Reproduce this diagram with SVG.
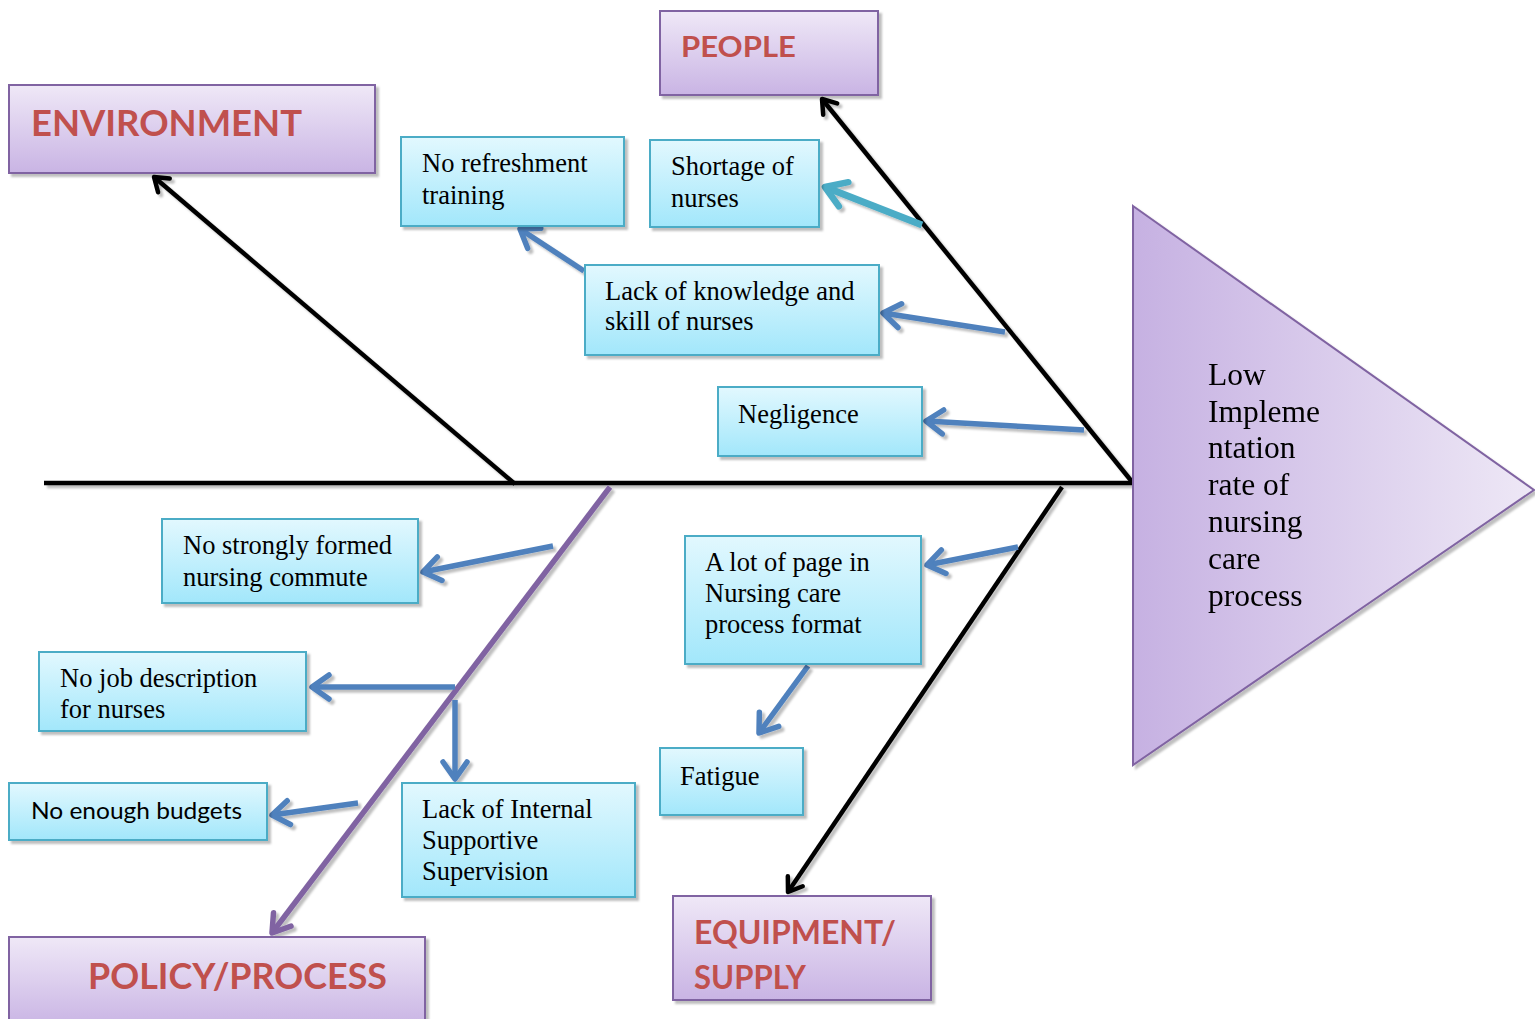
<svg xmlns="http://www.w3.org/2000/svg" width="1535" height="1019" viewBox="0 0 1535 1019">
<defs>
<linearGradient id="gBlue" x1="0" y1="0" x2="0" y2="1">
<stop offset="0" stop-color="#E2F8FE"/><stop offset="1" stop-color="#A2E7FB"/>
</linearGradient>
<linearGradient id="gPurple" x1="0" y1="0" x2="0" y2="1">
<stop offset="0" stop-color="#EFE8F7"/><stop offset="1" stop-color="#C9B4E4"/>
</linearGradient>
<linearGradient id="gTri" x1="0" y1="0" x2="1" y2="0">
<stop offset="0" stop-color="#C6B1E2"/><stop offset="1" stop-color="#EEE8F6"/>
</linearGradient>
<filter id="sh" x="-10%" y="-10%" width="130%" height="130%">
<feDropShadow dx="3" dy="3" stdDeviation="0.8" flood-color="#000" flood-opacity="0.25"/>
</filter>
<marker id="mBlue" markerUnits="userSpaceOnUse" markerWidth="30" markerHeight="30" refX="0" refY="0" orient="auto" style="overflow:visible">
<path d="M-17,-12 L0,0 L-17,12" fill="none" stroke="#4F81BD" stroke-width="5.5" stroke-linecap="round" stroke-linejoin="round"/>
</marker>
<marker id="mTeal" markerUnits="userSpaceOnUse" markerWidth="30" markerHeight="30" refX="0" refY="0" orient="auto" style="overflow:visible">
<path d="M-20,-13 L0,0 L-20,13" fill="none" stroke="#4BACC6" stroke-width="6.5" stroke-linecap="round" stroke-linejoin="round"/>
</marker>
<marker id="mBlack" markerUnits="userSpaceOnUse" markerWidth="30" markerHeight="30" refX="0" refY="0" orient="auto" style="overflow:visible">
<path d="M-13,-9 L0,0 L-13,9" fill="none" stroke="#000" stroke-width="4.5" stroke-linecap="round" stroke-linejoin="round"/>
</marker>
<marker id="mPurple" markerUnits="userSpaceOnUse" markerWidth="30" markerHeight="30" refX="0" refY="0" orient="auto" style="overflow:visible">
<path d="M-17,-11 L0,0 L-17,11" fill="none" stroke="#8064A2" stroke-width="5.5" stroke-linecap="round" stroke-linejoin="round"/>
</marker>
</defs>
<style>
.cause { fill: url(#gBlue); stroke: #4BACC6; stroke-width: 2; }
.cat { fill: url(#gPurple); stroke: #8064A2; stroke-width: 2; }
.t { font-family: "Liberation Serif", "Times New Roman", serif; font-size: 26.5px; fill: #000; }
.tt { font-family: "Liberation Serif", "Times New Roman", serif; font-size: 31.5px; fill: #000; }
.h { font-family: Lato, "Open Sans", "Liberation Sans", sans-serif; font-weight: bold; fill: #C0504D; }
.s { font-family: Lato, "Liberation Sans", sans-serif; font-size: 23px; fill: #000; }
.bone { fill: none; stroke: #000; stroke-width: 4.5; }
.ba { fill: none; stroke: #4F81BD; stroke-width: 5.5; }
</style>

<g id="connectors" filter="url(#sh)">
<line class="bone" x1="44" y1="483" x2="1133" y2="483"/>
<line class="bone" x1="515" y1="484" x2="154" y2="177" marker-end="url(#mBlack)"/>
<line class="bone" x1="1133" y1="483" x2="822" y2="99" marker-end="url(#mBlack)"/>
<line class="bone" x1="1062" y1="487" x2="788" y2="892" marker-end="url(#mBlack)"/>
<line fill="none" stroke="#8064A2" stroke-width="5.5" x1="610" y1="487" x2="272" y2="933" marker-end="url(#mPurple)"/>
<line fill="none" stroke="#4BACC6" stroke-width="7" x1="922" y1="225" x2="825" y2="187" marker-end="url(#mTeal)"/>
<line class="ba" x1="584" y1="271" x2="520" y2="229" marker-end="url(#mBlue)"/>
<line class="ba" x1="1005" y1="332" x2="883" y2="313" marker-end="url(#mBlue)"/>
<line class="ba" x1="1084" y1="430" x2="926" y2="421" marker-end="url(#mBlue)"/>
<line class="ba" x1="553" y1="546" x2="423" y2="572" marker-end="url(#mBlue)"/>
<line class="ba" x1="455" y1="687" x2="312" y2="687" marker-end="url(#mBlue)"/>
<line class="ba" x1="455" y1="700" x2="455" y2="779" marker-end="url(#mBlue)"/>
<line class="ba" x1="358" y1="803" x2="272" y2="815" marker-end="url(#mBlue)"/>
<line class="ba" x1="1018" y1="547" x2="927" y2="565" marker-end="url(#mBlue)"/>
<line class="ba" x1="808" y1="666" x2="759" y2="733" marker-end="url(#mBlue)"/>
</g>

<g id="effect" filter="url(#sh)">
<polygon points="1133,206 1534,490 1133,765" fill="url(#gTri)" stroke="#8064A2" stroke-width="2"/>
<text class="tt"><tspan x="1208" y="385">Low</tspan><tspan x="1208" y="422">Impleme</tspan><tspan x="1208" y="458">ntation</tspan><tspan x="1208" y="495">rate of</tspan><tspan x="1208" y="532">nursing</tspan><tspan x="1208" y="569">care</tspan><tspan x="1208" y="606">process</tspan></text>
</g>

<g id="environment">
<rect class="cat" x="9" y="85" width="366" height="88" filter="url(#sh)"/>
<text class="h" x="31" y="136" font-size="37" textLength="271" lengthAdjust="spacingAndGlyphs">ENVIRONMENT</text>
</g>
<g id="people">
<rect class="cat" x="660" y="11" width="218" height="84" filter="url(#sh)"/>
<text class="h" x="681" y="57" font-size="29" textLength="115" lengthAdjust="spacingAndGlyphs">PEOPLE</text>
</g>
<g id="policy">
<rect class="cat" x="9" y="937" width="416" height="90" filter="url(#sh)"/>
<text class="h" x="88" y="989" font-size="37" textLength="299" lengthAdjust="spacingAndGlyphs">POLICY/PROCESS</text>
</g>
<g id="equipment">
<rect class="cat" x="673" y="896" width="258" height="104" filter="url(#sh)"/>
<text class="h" x="694" y="944" font-size="33" textLength="202" lengthAdjust="spacingAndGlyphs">EQUIPMENT/</text>
<text class="h" x="694" y="989" font-size="33" textLength="112" lengthAdjust="spacingAndGlyphs">SUPPLY</text>
</g>

<g id="no-refreshment">
<rect class="cause" x="401" y="137" width="223" height="89" filter="url(#sh)"/>
<text class="t"><tspan x="422" y="172">No refreshment</tspan><tspan x="422" y="204">training</tspan></text>
</g>
<g id="shortage">
<rect class="cause" x="650" y="140" width="169" height="87" filter="url(#sh)"/>
<text class="t"><tspan x="671" y="175">Shortage of</tspan><tspan x="671" y="207">nurses</tspan></text>
</g>
<g id="lack-knowledge">
<rect class="cause" x="585" y="265" width="294" height="90" filter="url(#sh)"/>
<text class="t"><tspan x="605" y="300">Lack of knowledge and</tspan><tspan x="605" y="330">skill of nurses</tspan></text>
</g>
<g id="negligence">
<rect class="cause" x="718" y="387" width="204" height="69" filter="url(#sh)"/>
<text class="t" x="738" y="423">Negligence</text>
</g>
<g id="no-strongly">
<rect class="cause" x="162" y="519" width="256" height="84" filter="url(#sh)"/>
<text class="t"><tspan x="183" y="554">No strongly formed</tspan><tspan x="183" y="586">nursing commute</tspan></text>
</g>
<g id="no-job">
<rect class="cause" x="39" y="652" width="267" height="79" filter="url(#sh)"/>
<text class="t"><tspan x="60" y="687">No job description</tspan><tspan x="60" y="718">for nurses</tspan></text>
</g>
<g id="no-budgets">
<rect class="cause" x="9" y="783" width="258" height="57" filter="url(#sh)"/>
<text class="s" x="31" y="819" textLength="211" lengthAdjust="spacingAndGlyphs">No enough budgets</text>
</g>
<g id="lack-supervision">
<rect class="cause" x="402" y="783" width="233" height="114" filter="url(#sh)"/>
<text class="t"><tspan x="422" y="818">Lack of Internal</tspan><tspan x="422" y="849">Supportive</tspan><tspan x="422" y="880">Supervision</tspan></text>
</g>
<g id="pages">
<rect class="cause" x="685" y="536" width="236" height="128" filter="url(#sh)"/>
<text class="t"><tspan x="705" y="571">A lot of page in</tspan><tspan x="705" y="602">Nursing care</tspan><tspan x="705" y="633">process format</tspan></text>
</g>
<g id="fatigue">
<rect class="cause" x="660" y="748" width="143" height="67" filter="url(#sh)"/>
<text class="t" x="680" y="785">Fatigue</text>
</g>
</svg>
